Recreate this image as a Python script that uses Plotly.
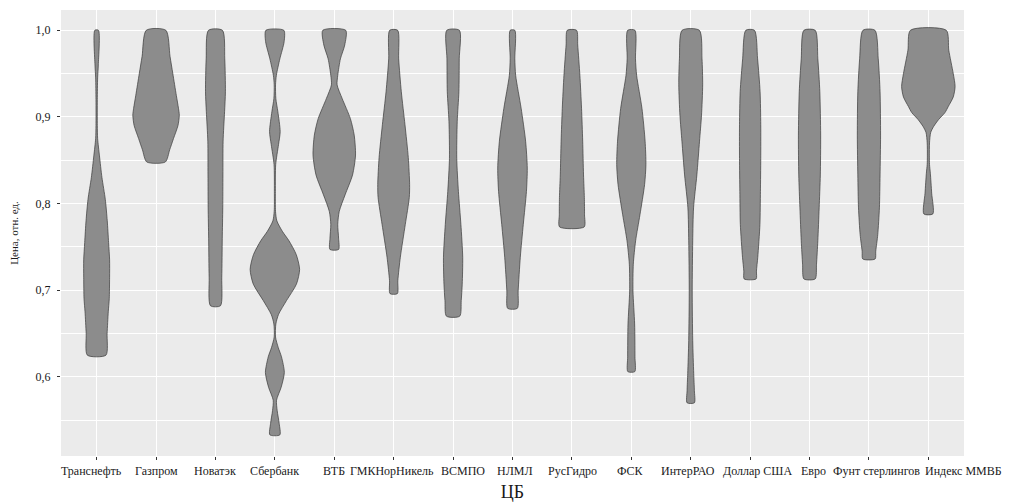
import plotly.graph_objects as go

categories = ["Транснефть", "Газпром", "Новатэк", "Сбербанк", "ВТБ", "ГМКНорНикель",
              "ВСМПО", "НЛМЛ", "РусГидро", "ФСК", "ИнтерРАО", "Доллар США", "Евро",
              "Фунт стерлингов", "Индекс ММВБ"]
# horizontal nudges (px) of the category labels as placed in the reference
label_nudge = [-5, 0, 0, 0, 0, -2, 10, 2, 1, -1, -3, 7, 4, 8, 35]

# Density profiles: price levels (top -> bottom) and relative density
transneft_y = [1.0, 0.96, 0.945, 0.92, 0.89, 0.875, 0.855, 0.83, 0.805, 0.78, 0.755, 0.735, 0.715, 0.69, 0.675, 0.65, 0.625]
transneft_d = [11, 10, 6, 4, 4, 6, 17, 32, 52, 64, 72, 78, 78, 76, 70, 63, 56]

gazprom_y = [1.0, 0.97, 0.95, 0.925, 0.91, 0.902, 0.89, 0.875, 0.862, 0.848]
gazprom_d = [59, 84, 101, 122, 135, 140, 132, 105, 82, 56]

novatek_y = [1.0, 0.967, 0.929, 0.906, 0.872, 0.833, 0.795, 0.76, 0.715, 0.682]
novatek_d = [42, 56, 60, 55, 46, 45, 44, 41, 38, 30]

sber_y = [1.0, 0.987, 0.967, 0.948, 0.937, 0.921, 0.906, 0.883, 0.868, 0.845, 0.814, 0.791,
          0.78, 0.768, 0.757, 0.741, 0.724, 0.707, 0.688, 0.672, 0.661, 0.646, 0.634, 0.623,
          0.605, 0.588, 0.573, 0.561, 0.546, 0.533]
sber_d = [54, 56, 30, 9, 4, 6, 18, 32, 22, 5, 3, 4, 12, 45, 85, 129, 149, 130, 70, 22, 6, 4,
          20, 40, 57, 38, 10, 14, 26, 30]

vtb_y = [1.0, 0.983, 0.967, 0.948, 0.937, 0.921, 0.898, 0.879, 0.856, 0.833, 0.81, 0.791, 0.776, 0.76, 0.747]
vtb_d = [69, 63, 37, 21, 17, 48, 97, 120, 128, 110, 65, 30, 21, 26, 26]

gmk_y = [1.0, 0.967, 0.929, 0.891, 0.853, 0.822, 0.807, 0.776, 0.738, 0.711, 0.696]
gmk_d = [24, 30, 46, 68, 88, 96, 94, 70, 40, 25, 22]

vsmpo_y = [1.0, 0.967, 0.929, 0.895, 0.852, 0.814, 0.776, 0.738, 0.707, 0.688, 0.670]
vsmpo_d = [38, 37, 35, 25, 22, 32, 47, 58, 55, 49, 40]

nlml_y = [1.0, 0.967, 0.948, 0.91, 0.872, 0.841, 0.814, 0.776, 0.738, 0.699, 0.679]
nlml_d = [14, 14, 19, 52, 79, 89, 84, 65, 47, 34, 29]

rushydro_y = [1.0, 0.983, 0.948, 0.91, 0.872, 0.833, 0.807, 0.787, 0.773]
rushydro_d = [28, 35, 48, 58, 65, 70, 75, 76, 74]

fsk_y = [1.0, 0.967, 0.948, 0.91, 0.872, 0.845, 0.822, 0.787, 0.757, 0.73, 0.699, 0.661, 0.623, 0.606]
fsk_d = [22, 25, 32, 64, 83, 88, 80, 52, 26, 12, 10, 20, 22, 21]

interrao_y = [1.0, 0.967, 0.937, 0.902, 0.872, 0.833, 0.795, 0.757, 0.699, 0.642, 0.604, 0.584, 0.570]
interrao_d = [52, 68, 72, 65, 53, 37, 17, 12, 9, 12, 18, 22, 22]

usd_y = [1.0, 0.967, 0.929, 0.891, 0.852, 0.814, 0.776, 0.738, 0.722, 0.713]
usd_d = [26, 45, 60, 64, 64, 62, 59, 46, 38, 36]

eur_y = [1.0, 0.967, 0.929, 0.879, 0.833, 0.795, 0.757, 0.73, 0.713]
eur_d = [34, 50, 62, 67, 65, 58, 50, 42, 34]

gbp_y = [1.0, 0.967, 0.929, 0.879, 0.833, 0.795, 0.764, 0.745, 0.736]
gbp_d = [36, 56, 67, 70, 67, 63, 53, 41, 37]

micex_y = [1.0, 0.977, 0.95, 0.935, 0.923, 0.912, 0.905, 0.897, 0.889, 0.882, 0.87, 0.855, 0.845, 0.835, 0.812, 0.788]
micex_d = [108, 123, 150, 161, 150, 120, 100, 62, 32, 14, 7, 6, 7, 12, 20, 27]

profiles = [
    (transneft_y, transneft_d), (gazprom_y, gazprom_d), (novatek_y, novatek_d),
    (sber_y, sber_d), (vtb_y, vtb_d), (gmk_y, gmk_d), (vsmpo_y, vsmpo_d),
    (nlml_y, nlml_d), (rushydro_y, rushydro_d), (fsk_y, fsk_d),
    (interrao_y, interrao_d), (usd_y, usd_d), (eur_y, eur_d), (gbp_y, gbp_d),
    (micex_y, micex_d),
]

FONT = "Liberation Serif"
TXT = "#1a1a1a"
dmax = max(max(d) for _, d in profiles)
violin_halfwidth = 0.45

fig = go.Figure()
for i, (ys, ds) in enumerate(profiles):
    hw = [violin_halfwidth * d / dmax for d in ds]
    xs = [i + h for h in hw] + [i - h for h in reversed(hw)] + [i + hw[0]]
    yy = list(ys) + list(reversed(ys)) + [ys[0]]
    fig.add_trace(go.Scatter(
        x=xs, y=yy, mode="lines", fill="toself",
        fillcolor="#8c8c8c",
        line=dict(color="#3a3a3a", width=0.7, shape="spline", smoothing=0.7),
        hoverinfo="skip", showlegend=False, name=categories[i],
    ))

# category labels (real text) under the ticks
for i, (name, dx) in enumerate(zip(categories, label_nudge)):
    fig.add_annotation(
        x=i, xref="x", y=0, yref="paper", yanchor="top", xanchor="center",
        text=name, showarrow=False, xshift=dx, yshift=-6,
        font=dict(family=FONT, size=12, color=TXT),
    )

# the page body has an 8px margin, so the figure is sized to fit the 1010x502 window
fig.update_layout(
    width=1002, height=494,
    margin=dict(l=53, r=46, t=2, b=46),
    paper_bgcolor="white", plot_bgcolor="#EBEBEB",
    separators=", ",
    font=dict(family=FONT, color=TXT, size=12),
    xaxis=dict(
        range=[-0.6, 14.6], tickvals=list(range(len(categories))),
        showticklabels=False, automargin=False,
        showgrid=True, gridcolor="white", gridwidth=1.1, zeroline=False, showline=False,
        ticks="outside", ticklen=3, tickwidth=1, tickcolor="#333333",
        title=dict(text="ЦБ", font=dict(family=FONT, size=18, color=TXT), standoff=27),
    ),
    yaxis=dict(
        range=[0.5086, 1.0234], tickvals=[0.6, 0.7, 0.8, 0.9, 1.0], tickformat=".1f",
        automargin=False, ticklabelstandoff=4,
        showgrid=True, gridcolor="white", gridwidth=1.1, zeroline=False, showline=False,
        ticks="outside", ticklen=3, tickwidth=1, tickcolor="#333333",
        tickfont=dict(family=FONT, size=12, color=TXT),
        minor=dict(tickvals=[0.55, 0.65, 0.75, 0.85, 0.95], showgrid=True,
                   gridcolor="white", gridwidth=0.5, ticks=""),
        title=dict(text="Цена, отн. ед.", font=dict(family=FONT, size=11, color=TXT), standoff=16),
    ),
)

fig.write_html("out.html")
